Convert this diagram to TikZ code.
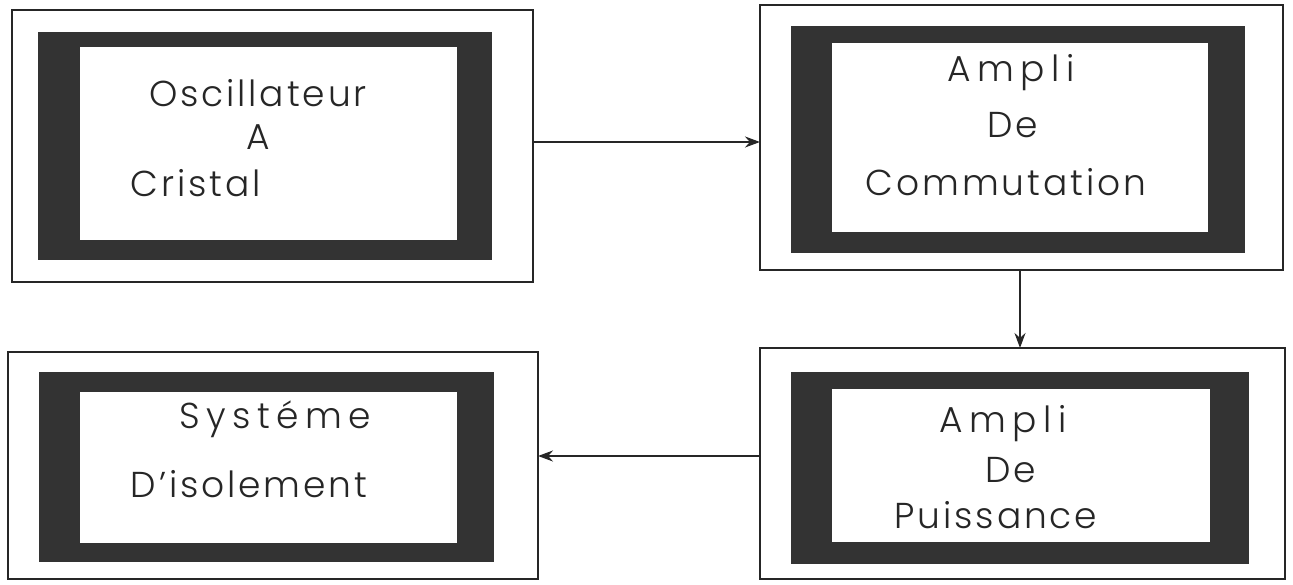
\documentclass[tikz,border=0pt]{standalone}
\usepackage{fontspec}
\setmainfont{Poppins}[UprightFont={* Light},LetterSpace=8]
\newfontfamily\widefont{Poppins}[UprightFont={* Light},LetterSpace=18]
\usetikzlibrary{arrows.meta}
\begin{document}
\begin{tikzpicture}[x=1pt,y=-1pt,
  outerbox/.style={draw=black!85, line width=1.8pt, inner sep=0pt, outer sep=0pt, rectangle},
  frame/.style={fill=black!80},
  lbl/.style={font=\fontsize{36}{42}\selectfont, text=black!85, inner sep=0pt, anchor=base},
  wlbl/.style={lbl, font=\widefont\fontsize{36}{42}\selectfont},
  conn/.style={draw=black!85, line width=1.8pt, -{Stealth[length=15pt,width=11pt]}}]
\useasboundingbox (0,0) rectangle (1293,585);
% Box 1
\node[outerbox, minimum width=521pt, minimum height=272pt] (o1) at (272.5,146) {};
\fill[frame] (38,32) rectangle (492,260);
\fill[white] (80,47) rectangle (457,240);
\node[lbl] (t1a) at (258,107) {Oscillateur};
\node[lbl] (t1b) at (258,150) {A};
\node[lbl] (t1c) at (196,197) {Cristal};
% Box 2
\node[outerbox, minimum width=523pt, minimum height=265pt] (o2) at (1021.5,137.5) {};
\fill[frame] (791,26) rectangle (1245,253);
\fill[white] (832,43) rectangle (1208,232);
\node[wlbl] (t2a) at (1011,82) {Ampli};
\node[lbl] (t2b) at (1013,138) {De};
\node[lbl] (t2c) at (1006,196) {Commutation};
% Box 3
\node[outerbox, minimum width=530pt, minimum height=227pt] (o3) at (273,465.5) {};
\fill[frame] (39,372) rectangle (494,562);
\fill[white] (80,392) rectangle (457,543);
\node[wlbl] (t3a) at (275,428) {Systéme};
\node[lbl] (t3b) at (249,497) {D'isolement};
% Box 4
\node[outerbox, minimum width=525pt, minimum height=231pt] (o4) at (1022.5,463.5) {};
\fill[frame] (791,372) rectangle (1249,564);
\fill[white] (832,389) rectangle (1210,542);
\node[wlbl] (t4a) at (1003,432) {Ampli};
\node[lbl] (t4b) at (1011,482) {De};
\node[lbl] (t4c) at (996,528) {Puissance};
% Connectors
\draw[conn] (o1.east |- 0,142) -- (o2.west |- 0,142);
\draw[conn] (o2.south -| 1020,0) -- (o4.north -| 1020,0);
\draw[conn] (o4.west |- 0,456) -- (o3.east |- 0,456);
\end{tikzpicture}
\end{document}
